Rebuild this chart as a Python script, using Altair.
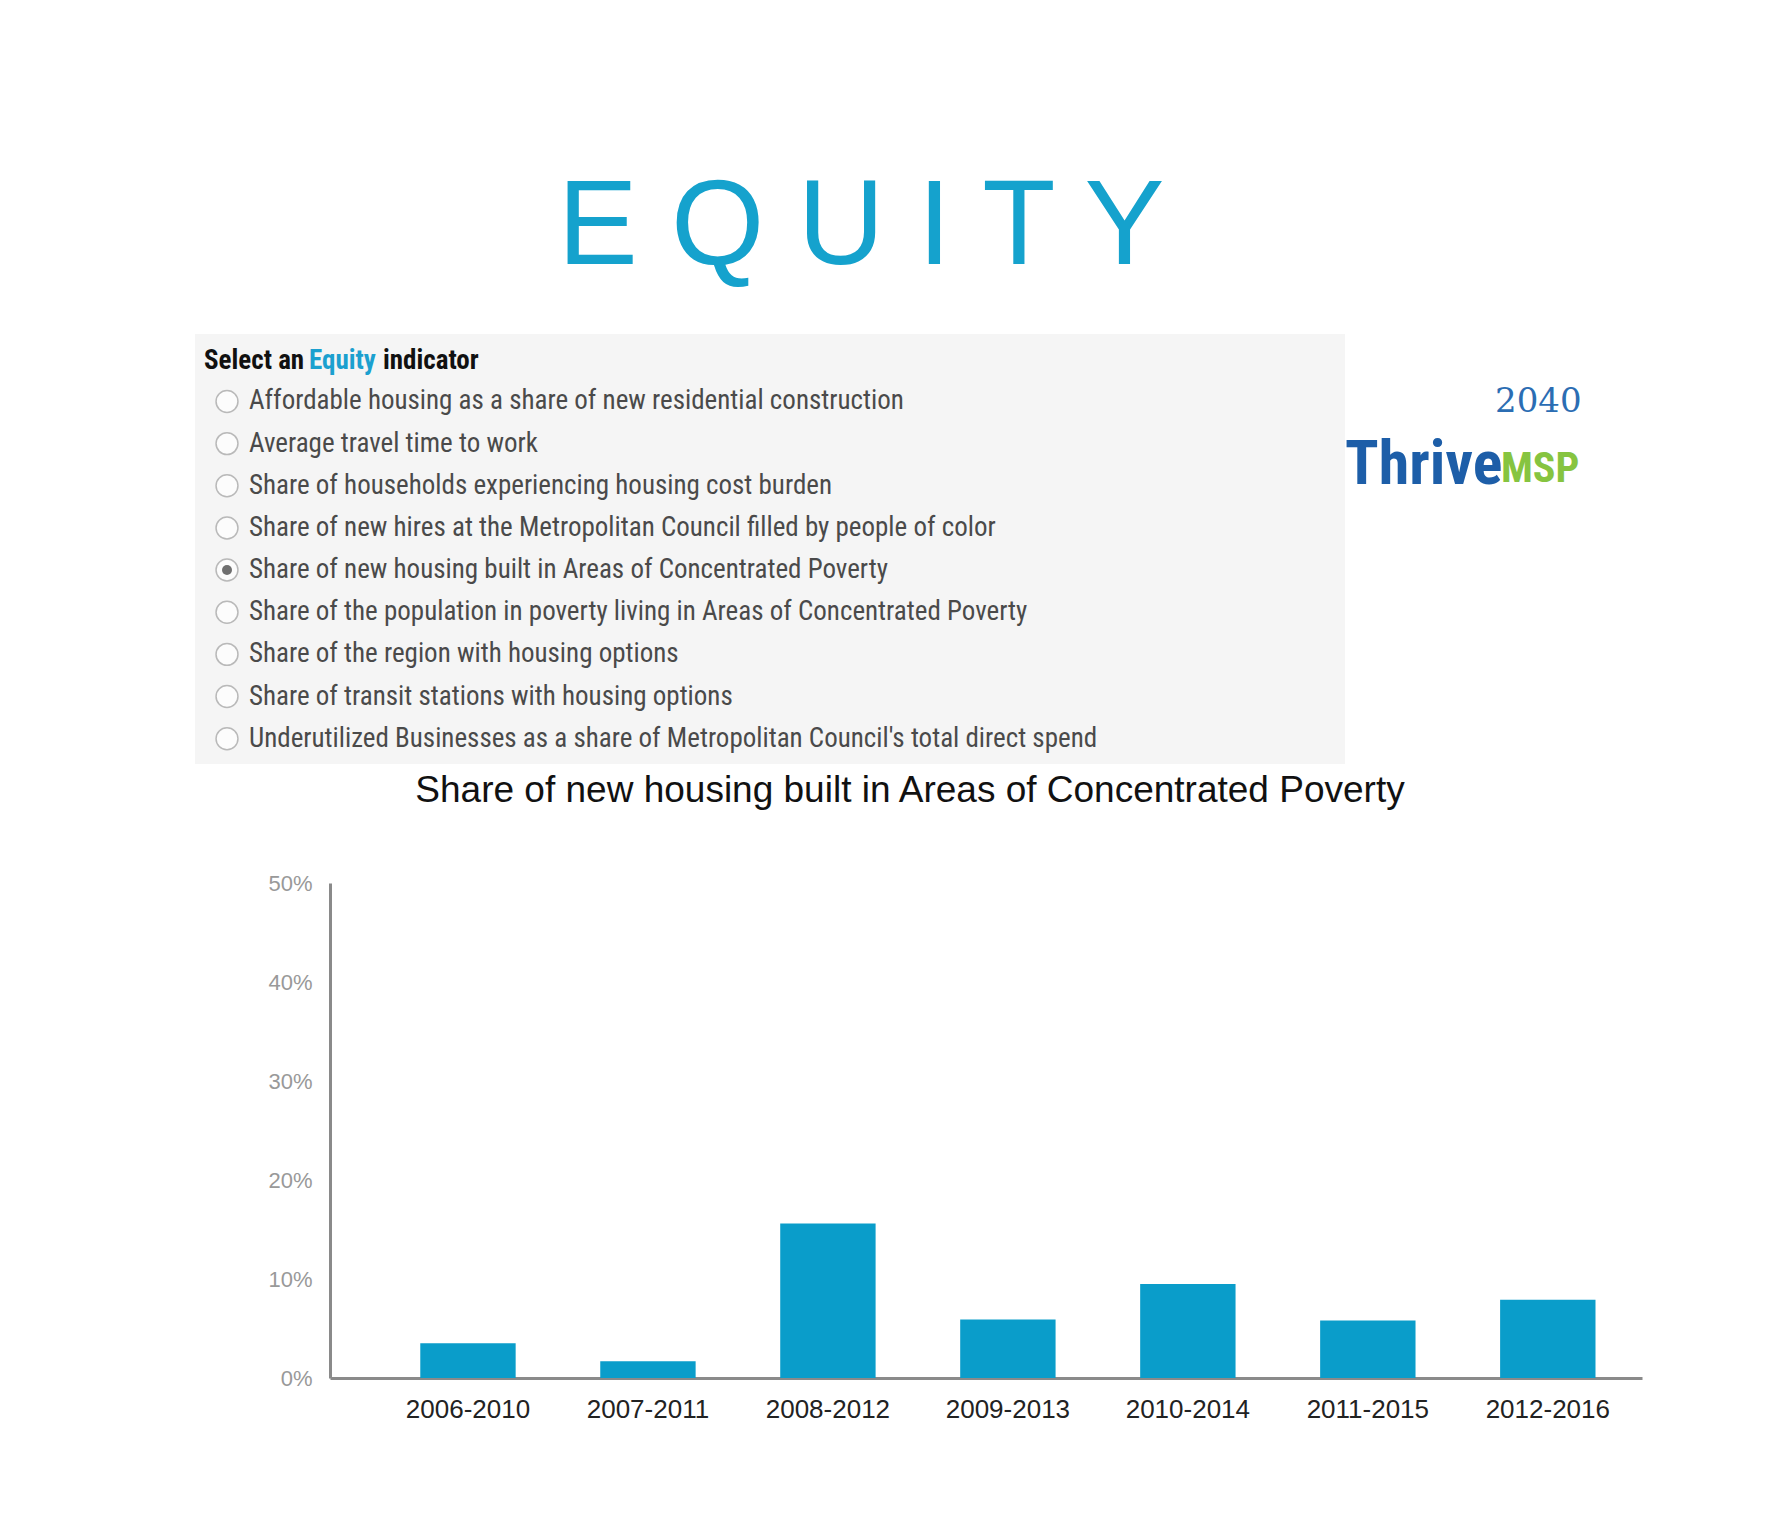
import altair as alt
import pandas as pd

# ---- data ----
periods = ["2006-2010", "2007-2011", "2008-2012", "2009-2013", "2010-2014", "2011-2015", "2012-2016"]
shares = [3.5, 1.7, 15.6, 5.9, 9.5, 5.8, 7.9]  # percent

options = [
    "Affordable housing as a share of new residential construction",
    "Average travel time to work",
    "Share of households experiencing housing cost burden",
    "Share of new hires at the Metropolitan Council filled by people of color",
    "Share of new housing built in Areas of Concentrated Poverty",
    "Share of the population in poverty living in Areas of Concentrated Poverty",
    "Share of the region with housing options",
    "Share of transit stations with housing options",
    "Underutilized Businesses as a share of Metropolitan Council's total direct spend",
]
selected_option = "Share of new housing built in Areas of Concentrated Poverty"
y_ticks = [0, 0.1, 0.2, 0.3, 0.4, 0.5]

BLUE = "#0a9dca"
NARROW = "Liberation Sans Narrow, Arial Narrow, Roboto Condensed, Liberation Sans, Arial, sans-serif"
SANS = "Liberation Sans, Arial, sans-serif"

bars_df = pd.DataFrame({"period": periods, "share": [s / 100 for s in shares]})
opt_df = pd.DataFrame({
    "row": list(range(1, len(options) + 1)),
    "label": options,
    "sel": [o == selected_option for o in options],
})

# ---- indicator selector panel ----
yrow = alt.Y("row:Q", axis=None, scale=alt.Scale(domain=[-0.6, 9.6], reverse=True))
base_opt = alt.Chart(opt_df)
radios = base_opt.mark_point(shape="circle", size=480, filled=True, fill="white",
                             stroke="#a0a0a0", strokeWidth=1.5).encode(x=alt.value(32), y=yrow)
dots = base_opt.transform_filter("datum.sel").mark_point(
    shape="circle", size=100, filled=True, color="#333333").encode(x=alt.value(32), y=yrow)
opt_text = base_opt.mark_text(align="left", baseline="middle", font=NARROW, fontSize=27,
                              color="#4a4a4a").encode(x=alt.value(54), y=yrow, text="label:N")
hdr_df = pd.DataFrame({"t": ["Select an", "Equity", "indicator"]})


def hdr(word, xpos, color):
    return alt.Chart(hdr_df).transform_filter(f"datum.t == '{word}'").mark_text(
        align="left", baseline="middle", font=NARROW, fontSize=27, fontWeight="bold", color=color
    ).encode(x=alt.value(xpos), y=alt.value(27), text="t:N")


panel = alt.layer(
    radios, dots, opt_text,
    hdr("Select an", 9, "#111"), hdr("Equity", 114, "#1ba0cf"), hdr("indicator", 188, "#111"),
).properties(width=1150, height=430, view=alt.ViewBackground(fill="#f5f5f5", stroke=None))

# ---- logo ----
logo_df = pd.DataFrame({"t": ["Thrive", "MSP", "2040"]})


def logo_txt(word, xpos, ypos, size, color, font, weight="bold"):
    return alt.Chart(logo_df).transform_filter(f"datum.t == '{word}'").mark_text(
        align="left", baseline="alphabetic", font=font, fontSize=size, fontWeight=weight, color=color
    ).encode(x=alt.value(xpos), y=alt.value(ypos), text="t:N")


logo = alt.layer(
    logo_txt("Thrive", 0, 150, 62, "#1d5ea8", NARROW),
    logo_txt("MSP", 156, 148, 42, "#86c440", NARROW),
    logo_txt("2040", 150, 78, 34, "#2b6db3", "DejaVu Serif, serif", "normal"),
).properties(width=240, height=170, view=alt.ViewBackground(stroke=None))

top_row = alt.hconcat(panel, logo, spacing=0)

# ---- bar chart ----
spacer = alt.Chart(pd.DataFrame({"a": [0]})).mark_point(opacity=0).encode(
    x=alt.value(0), y=alt.value(0)).properties(width=72, height=495)

bars = alt.Chart(bars_df).mark_bar(color=BLUE).encode(
    x=alt.X("period:N", sort=periods, title=None,
            scale=alt.Scale(paddingInner=0.47, paddingOuter=0.38, align=0.66),
            axis=alt.Axis(labelAngle=0, labelFontSize=26, labelColor="#222", labelFont=SANS,
                          domainColor="#8a8a8a", domainWidth=3, ticks=False, labelPadding=18)),
    y=alt.Y("share:Q", title=None,
            scale=alt.Scale(domain=[0, 0.5]),
            axis=alt.Axis(format=".0%", values=y_ticks, grid=False, ticks=False,
                          labelFontSize=22, labelColor="#999", labelFont=SANS, labelPadding=18,
                          domainColor="#8a8a8a", domainWidth=3)),
).properties(
    width=1312, height=495,
    title=alt.TitleParams("Share of new housing built in Areas of Concentrated Poverty",
                          fontSize=37, font=SANS, fontWeight="normal", color="#111",
                          anchor="middle", offset=62, dx=-76),
)

bottom_row = alt.hconcat(spacer, bars, spacing=0)

chart = alt.vconcat(top_row, bottom_row, spacing=8).properties(
    title=alt.TitleParams("E Q U I T Y", fontSize=120, font=SANS, fontWeight="normal",
                          color="#15a2cd", anchor="middle", offset=45, dx=-56),
    padding={"left": 184, "top": 160, "right": 10, "bottom": 10},
    background="white",
).configure_view(stroke=None)

chart.save("out.html", embed_options={"renderer": "svg", "actions": False})
